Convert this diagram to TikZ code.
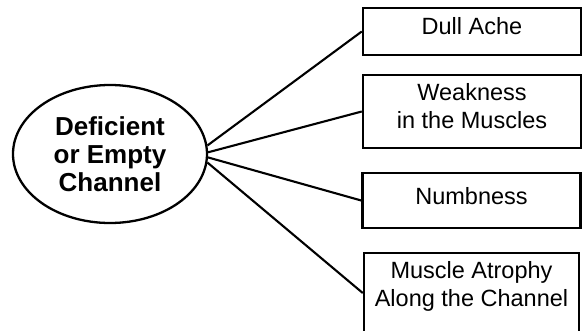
\documentclass[tikz,border=0pt]{standalone}
\usepackage{fontspec}
\setmainfont{Liberation Sans}
\usetikzlibrary{shapes.geometric}
\begin{document}
\begin{tikzpicture}[x=1pt,y=-1pt,
  hub/.style={draw,ellipse,line width=2.3pt,minimum width=194pt,minimum height=138pt,
    inner sep=0pt,align=center,font=\bfseries\fontsize{26}{28}\selectfont},
  symptom/.style={draw,rectangle,line width=2.5pt,inner sep=0pt,minimum width=218pt},
  txt/.style={inner sep=0pt,align=center,font=\fontsize{23.5}{28}\selectfont},
  link/.style={line width=2.1pt}]
\useasboundingbox (0,0) rectangle (584,330);
\clip (0,0) rectangle (584,330);
% central ellipse
\node[hub] (e) at (110,154) {Deficient\\or Empty\\Channel};
% symptom boxes
\node[symptom,minimum height=47pt,
  label={[txt,yshift=5pt]center:Dull Ache}] (b1) at (472,31.5) {};
\node[symptom,minimum height=73pt,
  label={[txt,yshift=5pt]center:Weakness\\in the Muscles}] (b2) at (472,111.5) {};
\node[symptom,minimum height=55pt,
  label={[txt,yshift=4pt]center:Numbness}] (b3) at (471.5,200.5) {};
\node[symptom,minimum width=215pt,minimum height=80pt,
  label={[txt,anchor=north,yshift=-10pt]north:Muscle Atrophy\\Along the Channel}] (b4) at (471.5,293) {};
% connectors
\draw[link] (e.5) -- (b1.west);
\draw[link] (e.1) -- (b2.west);
\draw[link] (e.-2) -- (b3.west);
\draw[link] (e.-5) -- (b4.west);
\end{tikzpicture}
\end{document}
